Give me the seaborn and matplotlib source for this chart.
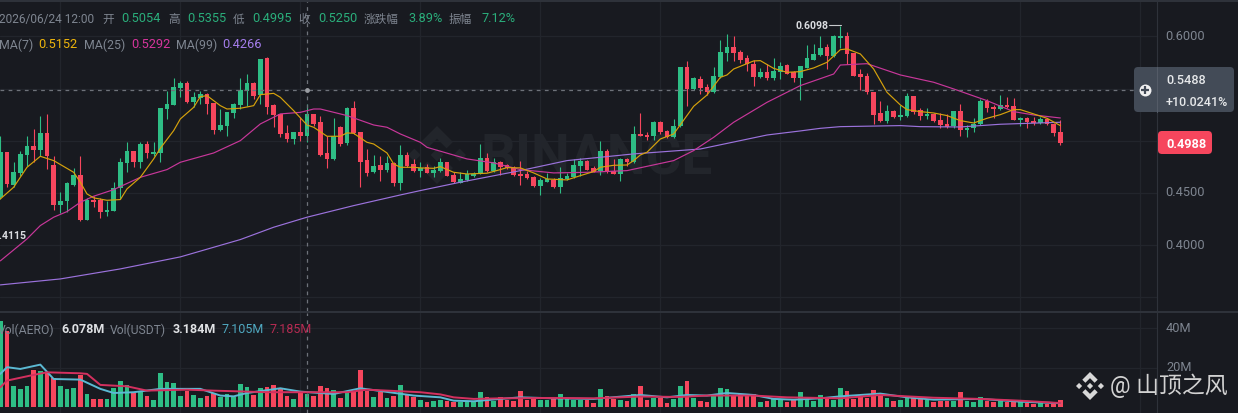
import numpy as np
import pandas as pd
import seaborn as sns
import matplotlib
matplotlib.use("Agg")
import matplotlib.pyplot as plt
from matplotlib.patches import FancyBboxPatch, Polygon
from matplotlib.transforms import IdentityTransform

opens = [.4459,.4890,.4580,.4692,.4864,.4950,.4915,.5075,.4768,.4389,.4421,.4580,.4673,.4245,.4437,.4430,.4315,.4328,.4551,.4788,
 .4906,.4797,.4973,.4870,.4883,.5304,.5343,.5502,.5553,.5368,.5413,.5445,.5362,.5107,.5145,.5266,.5343,.5477,.5553,.5438,
 .5789,.5339,.5257,.5071,.5017,.5084,.5043,.5257,.5180,.4880,.4826,.5135,.4979,.5311,.5081,.4816,.4698,.4768,.4724,.4791,
 .4596,.4864,.4775,.4711,.4746,.4695,.4711,.4794,.4673,.4596,.4622,.4666,.4682,.4832,.4711,.4800,.4768,.4743,.4682,.4682,
 .4654,.4571,.4609,.4628,.4561,.4634,.4654,.4762,.4807,.4736,.4711,.4902,.4711,.4685,.4826,.4794,.5065,.5055,.5043,.5180,
 .5094,.5036,.5138,.5706,.5496,.5591,.5515,.5464,.5610,.5840,.5898,.5850,.5789,.5738,.5610,.5655,.5598,.5662,.5725,.5655,
 .5598,.5700,.5776,.5821,.5894,.5808,.5984,.6000,.5840,.5636,.5623,.5467,.5263,.5189,.5285,.5225,.5234,.5429,.5292,.5234,
 .5253,.5199,.5158,.5138,.5285,.5107,.5119,.5158,.5384,.5323,.5304,.5346,.5336,.5202,.5218,.5189,.5170,.5209,.5164,.5081]
closes = [.4890,.4587,.4705,.4874,.4950,.4909,.5075,.4851,.4389,.4424,.4593,.4676,.4245,.4437,.4417,.4315,.4338,.4551,.4797,.4902,
 .4800,.4973,.4883,.4896,.5311,.5349,.5515,.5553,.5368,.5422,.5448,.5349,.5107,.5151,.5279,.5352,.5486,.5553,.5432,.5783,
 .5327,.5247,.5062,.5017,.5087,.5043,.5253,.5164,.4867,.4826,.5043,.4969,.5317,.5071,.4800,.4692,.4762,.4724,.4791,.4596,
 .4864,.4762,.4714,.4740,.4695,.4724,.4794,.4666,.4603,.4634,.4679,.4685,.4832,.4711,.4794,.4749,.4743,.4673,.4666,.4641,
 .4564,.4622,.4634,.4558,.4644,.4666,.4768,.4810,.4724,.4705,.4902,.4698,.4682,.4826,.4794,.5065,.5046,.5033,.5180,.5081,
 .5036,.5145,.5706,.5496,.5598,.5505,.5464,.5623,.5850,.5898,.5840,.5776,.5738,.5610,.5655,.5598,.5671,.5719,.5642,.5598,
 .5713,.5796,.5831,.5891,.5808,.6000,.6000,.5834,.5623,.5610,.5464,.5250,.5189,.5285,.5228,.5247,.5432,.5279,.5241,.5253,
 .5193,.5151,.5129,.5285,.5107,.5126,.5161,.5378,.5311,.5304,.5346,.5323,.5199,.5215,.5183,.5167,.5209,.5158,.5075,.4979]
highs = [.5049,.4890,.4800,.4906,.5043,.5113,.5234,.5257,.4858,.4507,.4609,.4736,.4851,.4449,.4475,.4453,.4427,.4609,.4839,.4992,
 .4906,.4985,.5001,.4992,.5311,.5480,.5598,.5575,.5575,.5464,.5480,.5454,.5362,.5304,.5279,.5362,.5604,.5639,.5560,.5783,
 .5802,.5349,.5257,.5151,.5087,.5225,.5352,.5257,.5241,.5049,.5215,.5145,.5327,.5381,.5087,.4921,.4864,.4858,.4858,.4800,
 .4960,.4896,.4826,.4794,.4778,.4762,.4832,.4800,.4698,.4698,.4721,.4705,.4969,.4883,.4832,.4807,.4781,.4762,.4807,.4714,
 .4660,.4641,.4692,.4641,.4746,.4692,.4826,.4832,.4813,.4762,.4998,.4921,.4826,.4832,.4832,.5145,.5263,.5087,.5189,.5186,
 .5100,.5209,.5706,.5760,.5610,.5617,.5540,.5706,.5961,.6022,.6006,.5872,.5821,.5770,.5693,.5732,.5789,.5757,.5738,.5668,
 .5719,.5917,.5923,.6000,.5926,.6012,.6098,.6038,.5840,.5687,.5649,.5470,.5381,.5343,.5292,.5343,.5457,.5429,.5317,.5311,
 .5266,.5266,.5260,.5285,.5352,.5151,.5221,.5400,.5400,.5343,.5438,.5419,.5406,.5228,.5228,.5225,.5225,.5218,.5170,.5196]
lows = [.4443,.4555,.4555,.4666,.4762,.4794,.4858,.4730,.4341,.4309,.4322,.4571,.4236,.4245,.4363,.4261,.4277,.4328,.4443,.4705,
 .4746,.4740,.4832,.4858,.4800,.5209,.5343,.5416,.5362,.5320,.5352,.5257,.5065,.5097,.5049,.5215,.5304,.5336,.5400,.5352,
 .5257,.5129,.5033,.4985,.4969,.5001,.4985,.5138,.4858,.4740,.4819,.4947,.4960,.5065,.4555,.4666,.4692,.4618,.4698,.4564,
 .4532,.4746,.4698,.4657,.4689,.4650,.4705,.4660,.4596,.4593,.4618,.4657,.4682,.4705,.4705,.4673,.4730,.4660,.4577,.4634,
 .4561,.4481,.4603,.4551,.4500,.4628,.4647,.4666,.4717,.4698,.4676,.4692,.4679,.4618,.4756,.4788,.5043,.5011,.5004,.5065,
 .5024,.5030,.5132,.5330,.5489,.5448,.5438,.5457,.5604,.5767,.5767,.5744,.5668,.5521,.5604,.5585,.5579,.5591,.5636,.5560,
 .5394,.5693,.5770,.5815,.5687,.5802,.5885,.5732,.5617,.5486,.5445,.5161,.5177,.5170,.5215,.5202,.5228,.5260,.5202,.5209,
 .5183,.5126,.5126,.5126,.5049,.5036,.5081,.5151,.5279,.5221,.5298,.5311,.5196,.5138,.5126,.5151,.5161,.5151,.5049,.4960]
volumes = [43.7,38.8,10.8,9.2,10.5,18.8,18.5,17.6,14.6,10.5,9.2,9.5,16.3,6.6,4.1,4.1,4.1,9.5,13.1,11.2,
 7.1,7.8,5.4,3.7,17.3,12.7,12.0,5.8,8.3,6.3,4.6,5.8,7.1,4.9,6.6,4.9,11.7,10.2,6.3,9.8,
 10.3,11.0,9.2,5.8,4.1,7.5,6.6,5.8,10.5,9.5,8.6,4.4,7.1,8.3,18.6,8.3,4.9,7.5,4.6,5.4,
 11.2,6.6,4.9,3.7,2.4,2.9,3.7,3.1,2.4,2.7,2.4,2.7,7.5,5.3,3.1,5.1,3.4,3.1,8.0,3.7,
 4.1,3.7,3.7,4.1,6.4,4.1,3.7,3.7,3.7,2.0,9.0,5.8,4.1,3.7,3.2,6.4,10.8,3.4,4.4,4.4,
 2.0,4.1,10.5,13.1,4.6,3.1,2.7,5.4,9.5,9.2,5.4,6.4,5.8,6.4,2.7,3.1,4.1,4.1,2.7,3.4,
 7.8,4.1,3.1,6.1,4.4,3.7,9.5,8.1,4.1,5.1,4.4,8.8,7.1,4.7,3.1,3.6,4.9,4.4,4.1,3.4,
 2.4,3.2,3.2,3.2,7.5,3.2,2.7,4.9,3.2,2.7,3.1,2.7,2.7,2.7,2.0,1.7,2.0,1.4,1.4,3.7]

ma7_k = [0,2,4,6,8,11,12,13,14,16,18,19,21,23,24,26,27,29,30,31,33,34,36,38,39,41,42,44,46,47,49,51,52,53,55,56,58,59,60,62,63,65,66,68,70,73,75,76,78,80,82,85,87,89,90,92,94,95,96,97,99,101,104,106,108,109,110,113,114,116,118,120,122,124,126,127,129,131,133,135,136,138,140,142,144,146,148,150,152,153,155,157,159]
ma7_v = [.4443,.4555,.4746,.4851,.4810,.4698,.4603,.4491,.4453,.4430,.4437,.4539,.4650,.4826,.4928,.5097,.5209,.5320,.5422,.5432,.5336,.5304,.5311,.5336,.5441,.5454,.5416,.5288,.5151,.5129,.5043,.5043,.5075,.5071,.4985,.4969,.4883,.4778,.4746,.4746,.4740,.4736,.4752,.4698,.4682,.4689,.4724,.4743,.4740,.4692,.4634,.4625,.4666,.4705,.4746,.4765,.4768,.4810,.4864,.4890,.5017,.5065,.5330,.5438,.5607,.5630,.5687,.5764,.5767,.5693,.5655,.5662,.5697,.5751,.5872,.5879,.5831,.5687,.5464,.5343,.5298,.5279,.5266,.5241,.5193,.5170,.5215,.5250,.5298,.5298,.5257,.5215,.5145]
ma25_k = [0,4,6,8,10,12,14,17,21,25,27,32,36,39,42,45,47,48,52,56,58,60,63,64,70,74,78,83,88,94,101,104,107,110,115,120,125,126,130,135,140,143,148,152,155,159]
ma25_v = [.3850,.4060,.4188,.4268,.4322,.4411,.4469,.4532,.4650,.4724,.4794,.4883,.5001,.5161,.5257,.5272,.5304,.5304,.5241,.5151,.5129,.5065,.4985,.4937,.4826,.4788,.4724,.4692,.4698,.4714,.4810,.4906,.5033,.5177,.5368,.5528,.5639,.5725,.5738,.5630,.5560,.5496,.5384,.5279,.5247,.5218]
ma99_k = [0,9,18,27,36,41,46,53,60,63,69,78,85,95,105,115,120,123,126,135,138,144,150,159]
ma99_v = [.3620,.3677,.3773,.3888,.4054,.4172,.4268,.4379,.4481,.4523,.4603,.4714,.4810,.4874,.4921,.5055,.5094,.5119,.5135,.5145,.5135,.5132,.5158,.5177]
volma_a_k = [0,1,3,6,8,12,15,17,20,24,30,33,35,37,42,45,50,54,62,66,68,71,75,78,83,89,96,100,103,106,109,113,116,119,123,126,132,136,140,147,153,159]
volma_a_v = [16.8,20.2,19.3,21.5,14.2,13.9,9.2,7.1,7.5,9.2,9.2,5.8,5.4,7.1,9.5,7.8,6.6,9.5,5.8,4.9,3.2,2.9,4.1,4.9,4.4,4.1,6.1,4.9,6.1,5.8,7.1,6.1,4.1,3.7,4.4,5.4,6.8,4.9,3.7,4.1,2.7,1.9]
volma_b_k = [0,1,5,7,12,13,15,19,22,28,32,40,52,55,63,66,68,71,75,83,89,96,102,106,113,118,126,132,140,147,153,159]
volma_b_v = [10.0,13.4,16.3,17.6,17.1,16.8,11.2,10.5,8.3,8.8,8.3,7.5,7.5,8.8,7.5,6.4,4.9,4.1,4.4,4.6,4.4,5.3,5.1,5.8,5.8,4.9,4.4,6.1,4.7,4.1,3.2,2.0]
price_ticks = [0.60, 0.45, 0.40]
price_grid = [0.60, 0.55, 0.50, 0.45, 0.40, 0.35]
vol_ticks = [40, 20]
hover_price = 0.5488
last_price = 0.4988
high_mark = 0.6098

W, H = 1238, 414
BG, GRID, SEP = "#181A20", "#22252C", "#2E323A"
UP, DOWN = "#2EBD85", "#F6465D"
GREY = "#7E8590"
CROSS = "#6E727A"

sns.set_theme(style="dark")
plt.rcParams["font.family"] = ["Roboto", "Noto Sans CJK SC", "DejaVu Sans"]
fig = plt.figure(figsize=(W / 100, H / 100), dpi=100, facecolor=BG)

def frac(x, y):
    return x / W, 1 - y / H

AX_R = 1157
axp = fig.add_axes([0, 1 - 312 / H, AX_R / W, 310 / H], facecolor="none")
axv = fig.add_axes([0, 0, AX_R / W, 100 / H], facecolor="none")

k = np.arange(len(opens))
df = pd.DataFrame(dict(k=k, o=opens, c=closes, h=highs, l=lows, v=volumes))
df["up"] = df.c >= df.o
colors = np.where(df.up, UP, DOWN)

XL = (-0.05, 173.5)
grid_k = np.arange(9, 175, 18)
for ax in (axp, axv):
    ax.set_xlim(*XL)
    ax.grid(False)
    for s in ax.spines.values():
        s.set_visible(False)
    ax.tick_params(left=False, bottom=False, labelleft=False, labelbottom=False)
    for g in grid_k:
        ax.axvline(g, color=GRID, lw=0.9, zorder=0)
    ax.axvline(46, color=CROSS, lw=0.9, dashes=(3, 3.5), zorder=5)

# Watermark under candles
fig.text(*frac(481, 160), "BINANCE", color="#22252B", fontsize=39.5, fontweight="bold",
         family="Roboto", va="center", ha="left", zorder=-1)

def logo(cx, cy, r, color, z):
    tops = [(0, -1), (.55, -.45), (.33, -.23), (0, -.56), (-.33, -.23), (-.55, -.45)]
    shapes = [tops, [(a, -b) for a, b in tops],
              [(0, -.22), (.22, 0), (0, .22), (-.22, 0)],
              [(-.78, -.22), (-.56, 0), (-.78, .22), (-1, 0)],
              [(.78, -.22), (1, 0), (.78, .22), (.56, 0)]]
    for s in shapes:
        pts = [(cx + a * r, H - (cy + b * r)) for a, b in s]
        fig.add_artist(Polygon(pts, closed=True, fc=color, ec="none", zorder=z, transform=IdentityTransform()))

logo(437, 156, 29, "#22252B", -1)

# Price panel
axp.set_ylim(0.3370, 0.6338)
for p in price_grid:
    axp.axhline(p, color=GRID, lw=0.9, zorder=0)
axp.vlines(k, df.l, df.h, colors=colors, lw=0.8, zorder=2)
axp.bar(k, (df.c - df.o).abs().clip(lower=0.0006), bottom=df[["o", "c"]].min(axis=1),
        width=0.72, color=colors, lw=0, zorder=3)
sns.lineplot(x=ma99_k, y=ma99_v, ax=axp, color="#9B72DC", lw=0.85, zorder=4, estimator=None)
sns.lineplot(x=ma25_k, y=ma25_v, ax=axp, color="#C8379A", lw=0.85, zorder=4, estimator=None)
sns.lineplot(x=ma7_k, y=ma7_v, ax=axp, color="#D6A20C", lw=0.85, zorder=4, estimator=None)
axp.set_xlim(*XL)
axp.set_xlabel(""); axp.set_ylabel("")
axp.axhline(hover_price, color=CROSS, lw=0.9, dashes=(3, 3.5), zorder=5)
axp.plot([46], [hover_price], "o", ms=3.5, color="#9A9DA3", mec="none", zorder=6)

# Volume panel
axv.set_ylim(-3.05, 47.7)
for v in vol_ticks:
    axv.axhline(v, color=GRID, lw=0.9, zorder=0)
sns.barplot(data=df, x="k", y="v", hue="up", palette={True: UP, False: DOWN}, ax=axv,
            native_scale=True, dodge=False, width=0.72, legend=False, errorbar=None,
            saturation=1, linewidth=0, zorder=2)
sns.lineplot(x=volma_a_k, y=volma_a_v, ax=axv, color="#5BB9D3", lw=1.4, zorder=4, estimator=None)
sns.lineplot(x=volma_b_k, y=volma_b_v, ax=axv, color="#D4305F", lw=1.4, zorder=4, estimator=None)
axv.set_xlim(*XL)
axv.set_ylim(-3.05, 47.7)
axv.set_xlabel(""); axv.set_ylabel("")

# Frame lines
for y0, lw in ((1.5, 2.0), (313, 2.0)):
    fig.add_artist(plt.Line2D([0, 1], [1 - y0 / H] * 2, color=SEP, lw=lw * 0.72, zorder=2))
fig.add_artist(plt.Line2D([AX_R / W] * 2, [0, 1], color=SEP, lw=0.8, zorder=2))

def label(x, y, s, color=GREY, size=9.2, weight="normal", ha="left", z=12):
    fig.text(*frac(x, y), s, color=color, fontsize=size, fontweight=weight, ha=ha, va="center", zorder=z)

# Axis labels
for p in price_ticks:
    ypx = 2 + (0.6338 - p) / (0.6338 - 0.3370) * 310
    label(1165, ypx - 1, f"{p:.4f}")
for v in vol_ticks:
    ypx = 314 + (47.7 - v) / (47.7 + 3.05) * 100
    label(1166, ypx - 1, f"{v}M")

# Header rows
GREEN_T = "#2AAE7B"
CJK = 8.4
label(-1, 19, "2026/06/24 12:00", size=8.6)
row = [(102, "开", GREY, CJK), (121, "0.5054", GREEN_T, 9.2), (168, "高", GREY, CJK), (187, "0.5355", GREEN_T, 9.2),
       (233, "低", GREY, CJK), (252, "0.4995", GREEN_T, 9.2), (298, "收", GREY, CJK), (318, "0.5250", GREEN_T, 9.2),
       (364, "涨跌幅", GREY, CJK), (408, "3.89%", GREEN_T, 9.2), (449, "振幅", GREY, CJK), (481, "7.12%", GREEN_T, 9.2)]
for x, s, c, sz in row:
    label(x, 19, s, c, size=sz)
for x, s, c in [(-1, "MA(7)", GREY), (38, "0.5152", "#EDB40C"), (84, "MA(25)", GREY), (131, "0.5292", "#D6359C"),
                (176, "MA(99)", GREY), (222, "0.4266", "#A47DEB")]:
    label(x, 45, s, c, size=8.9 if s.startswith("MA") else 9.2)
for x, s, c, w, sz in [(-2, "Vol(AERO)", GREY, "normal", 8.7), (61, "6.078M", "#E0E2E5", "bold", 9.0),
                       (110, "Vol(USDT)", GREY, "normal", 8.7), (173, "3.184M", "#E0E2E5", "bold", 9.0),
                       (222, "7.105M", "#4FA8C0", "normal", 9.0), (270, "7.185M", "#B62B52", "normal", 9.0)]:
    label(x, 330, s, c, weight=w, size=sz)

# High / low annotations
label(795, 26, "0.6098", "#DADCE0", size=7.6, weight="bold")
fig.add_artist(plt.Line2D([829 / W, 841 / W], [1 - 26 / H] * 2, color="#C8CACD", lw=0.8, zorder=6))
label(26, 236, "0.4115", "#DADCE0", size=7.6, weight="bold", ha="right")

def box(x0, y0, x1, y1, fc, r, z):
    fig.add_artist(FancyBboxPatch((x0, H - y1), x1 - x0, y1 - y0, boxstyle=f"round,pad=0,rounding_size={r}",
                                  fc=fc, ec="none", transform=IdentityTransform(), zorder=z))

# Hover box
box(1134, 68, 1234, 113, "#434B57", 4, 8)
fig.add_artist(plt.Line2D([AX_R / W] * 2, [1 - 113 / H, 1 - 68 / H], color="#545B67", lw=0.8, zorder=9))
label(1166, 80, "0.5488", "#E6E8EA", size=9.2, weight="medium")
label(1166, 102, "+10.0241%", "#E6E8EA", size=9.0, weight="medium")
fig.add_artist(plt.Line2D([1145 / W], [1 - 91 / H], marker="o", ms=8.6, mfc="#F0F0F0", mec="none", zorder=10))
fig.add_artist(plt.Line2D([1145 / W], [1 - 91 / H], marker="+", ms=6, mec="#434B57", mew=1.6, zorder=11))

# Last price tag
box(1158, 132, 1212, 155, DOWN, 4, 8)
label(1166, 144, "0.4988", "#FFFFFF", size=9.2, weight="bold")

# Signature
logo(1090, 387, 14, "#D8D8D8", 12)
label(1110, 386, "@ 山顶之风", "#D2D2D2", size=16.5)

fig.savefig("out.png", dpi=100, facecolor=BG)
